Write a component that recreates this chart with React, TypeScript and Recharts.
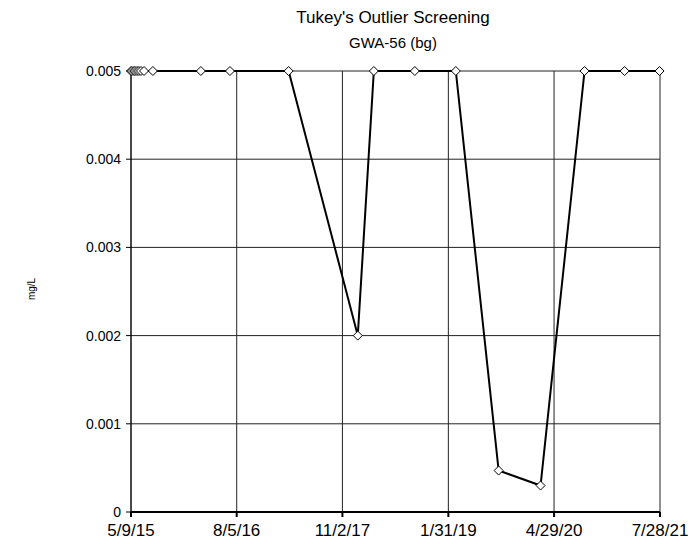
import { CartesianGrid, Line, LineChart, XAxis, YAxis } from "recharts";

// sample dates (m/d/yy) and concentrations
const sampleDates = [
  "5/9/15", "5/13/15", "5/22/15", "5/26/15", "6/4/15", "6/12/15", "6/21/15", "7/4/15",
  "8/11/15", "3/4/16", "7/7/16", "3/16/17", "1/7/18", "3/17/18", "9/9/18", "3/4/19",
  "9/4/19", "3/2/20", "9/7/20", "2/26/21", "7/26/21",
];
const concentrations = [
  0.005, 0.005, 0.005, 0.005, 0.005, 0.005, 0.005, 0.005,
  0.005, 0.005, 0.005, 0.005, 0.002, 0.005, 0.005, 0.005,
  0.00047, 0.0003, 0.005, 0.005, 0.005,
];
const xTickLabels = ["5/9/15", "8/5/16", "11/2/17", "1/31/19", "4/29/20", "7/28/21"];
const yTicks = [0, 0.001, 0.002, 0.003, 0.004, 0.005];

const toMs = (s: string) => {
  const [m, d, y] = s.split("/").map(Number);
  return Date.UTC(2000 + y, m - 1, d);
};

const xTicks = xTickLabels.map(toMs);
const rows = sampleDates.map((d, i) => ({ t: toMs(d), v: concentrations[i] }));

const fmtDate = (ms: number) => {
  const dt = new Date(ms);
  return `${dt.getUTCMonth() + 1}/${dt.getUTCDate()}/${dt.getUTCFullYear() % 100}`;
};

const fmtY = (v: number) => (v === 0 ? "0" : v.toFixed(3));

function Diamond(props: any) {
  const { cx, cy } = props;
  if (cx == null || cy == null) return null;
  const r = 4.5;
  return (
    <path
      d={`M${cx},${cy - r}L${cx + r},${cy}L${cx},${cy + r}L${cx - r},${cy}Z`}
      fill="#fff"
      stroke="#000"
      strokeWidth={1}
    />
  );
}

export default function App() {
  const font = "Liberation Sans, Arial, sans-serif";
  return (
    <div style={{ position: "absolute", left: 0, top: 0, width: 698, height: 544, background: "#fff", fontFamily: font }}>
      <div style={{ position: "absolute", left: 0, width: 786, top: 8, textAlign: "center", fontSize: 17 }}>
        Tukey's Outlier Screening
      </div>
      <div style={{ position: "absolute", left: 0, width: 786, top: 34, textAlign: "center", fontSize: 15 }}>
        GWA-56 (bg)
      </div>
      <div
        style={{
          position: "absolute",
          left: 31,
          top: 289,
          transform: "translate(-50%, -50%) rotate(-90deg)",
          fontSize: 10,
          whiteSpace: "nowrap",
        }}
      >
        mg/L
      </div>
      <LineChart
        width={698}
        height={544}
        data={rows}
        margin={{ top: 71, right: 38, bottom: 0, left: 0 }}
        style={{ position: "absolute", left: 0, top: 0 }}
      >
        <CartesianGrid stroke="#222" strokeWidth={1} horizontal vertical />
        <XAxis
          dataKey="t"
          type="number"
          scale="time"
          domain={[xTicks[0], xTicks[xTicks.length - 1]]}
          ticks={xTicks}
          tickFormatter={fmtDate}
          height={32}
          stroke="#000"
          strokeWidth={2}
          tickSize={5}
          tickMargin={7}
          tick={{ fill: "#000", fontSize: 17, fontFamily: font }}
          interval={0}
        />
        <YAxis
          type="number"
          domain={[0, 0.005]}
          ticks={yTicks}
          tickFormatter={fmtY}
          width={131}
          stroke="#000"
          strokeWidth={1}
          tickSize={5}
          tickMargin={5}
          tick={{ fill: "#000", fontSize: 14, fontFamily: font }}
          interval={0}
        />
        <Line
          dataKey="v"
          stroke="#000"
          strokeWidth={2}
          dot={<Diamond />}
          activeDot={false}
          isAnimationActive={false}
        />
      </LineChart>
    </div>
  );
}
